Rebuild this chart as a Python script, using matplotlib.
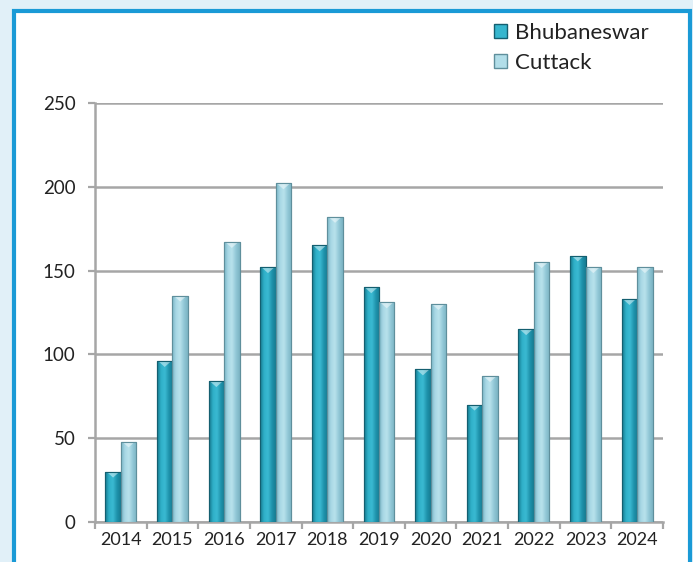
import numpy as np
import matplotlib
matplotlib.use("Agg")
from matplotlib import pyplot as plt
from matplotlib.colors import LinearSegmentedColormap
from matplotlib.patches import Rectangle, Polygon

years = ["2014", "2015", "2016", "2017", "2018", "2019", "2020", "2021", "2022", "2023", "2024"]
bhubaneswar = [30, 96, 84, 152, 165, 140, 91, 70, 115, 159, 133]
cuttack = [48, 135, 167, 202, 182, 131, 130, 87, 155, 152, 152]
yticks = [0, 50, 100, 150, 200, 250]

plt.rcParams["font.family"] = ["Lato", "DejaVu Sans"]

# colours for the bevelled bars (left edge -> highlight -> right edge)
cmap_b = LinearSegmentedColormap.from_list("b", ["#16788d", "#2fb0c9", "#3bbad2", "#1f93ac", "#167c92"])
cmap_c = LinearSegmentedColormap.from_list("c", ["#79b5c6", "#a9d8e5", "#b8e2ec", "#92c8d7", "#7bb3c3"])
edge_b = "#145f70"
edge_c = "#5f8f9c"

fig = plt.figure(figsize=(6.93, 5.62), dpi=100)
fig.patch.set_facecolor("#e1f0f8")
# white panel with blue border
fig.patches.append(Rectangle((14 / 693, -0.05), (690 - 14) / 693, 1.05 - 11 / 562,
                             transform=fig.transFigure, facecolor="white",
                             edgecolor="#1a9ad6", linewidth=3, zorder=-5))

ax = fig.add_axes([95 / 693, 40 / 562, (663 - 95) / 693, (522 - 103) / 562])
ax.set_facecolor("none")
ax.set_zorder(2)

x = np.arange(len(years))
w = 0.3
grad = np.linspace(0, 1, 64).reshape(1, -1)


def draw_bars(xs, vals, cmap, edge, label):
    bars = ax.bar(xs, vals, width=w, color=cmap(0.5), edgecolor=edge, linewidth=0.8,
                  label=label, zorder=3)
    for b in bars:
        x0, y0 = b.get_x(), b.get_y()
        bw, bh = b.get_width(), b.get_height()
        im = ax.imshow(grad, cmap=cmap, aspect="auto", extent=[x0, x0 + bw, y0, y0 + bh],
                       zorder=3, interpolation="bicubic")
        im.set_clip_path(b)
        # light chevron at the top of each bar
        tri = Polygon([[x0 + bw * 0.08, y0 + bh], [x0 + bw * 0.92, y0 + bh],
                       [x0 + bw * 0.5, y0 + bh - 3.5]], closed=True,
                      facecolor="white", alpha=0.45, edgecolor="none", zorder=4)
        ax.add_patch(tri)
        ax.add_patch(Rectangle((x0, y0), bw, bh, facecolor="none", edgecolor=edge,
                               linewidth=0.8, zorder=5))
    return bars


draw_bars(x - w / 2, bhubaneswar, cmap_b, edge_b, "Bhubaneswar")
draw_bars(x + w / 2, cuttack, cmap_c, edge_c, "Cuttack")

ax.set_xlim(-0.5, len(years) - 0.5)
ax.set_ylim(0, 250)
ax.set_yticks(yticks)
ax.set_yticklabels([str(v) for v in yticks])
ax.set_xticks(x)
ax.set_xticklabels(years)
ax.set_xticks(np.arange(-0.5, len(years), 1), minor=True)

ax.grid(axis="y", color="#a6a6a6", linewidth=1.8, zorder=1)
ax.set_axisbelow(True)
for s in ["top", "right"]:
    ax.spines[s].set_visible(False)
for s in ["left", "bottom"]:
    ax.spines[s].set_color("#a6a6a6")
    ax.spines[s].set_linewidth(1.8)
    ax.spines[s].set_zorder(2)

ax.tick_params(axis="y", length=5, width=1.6, color="#a6a6a6", pad=9, labelsize=13.5, labelcolor="#222222")
ax.tick_params(axis="x", which="major", length=0, pad=7, labelsize=13, labelcolor="#222222")
ax.tick_params(axis="x", which="minor", length=5, width=1.6, color="#a6a6a6")

handles = [Rectangle((0, 0), 1, 1, facecolor=cmap_b(0.4), edgecolor=edge_b),
           Rectangle((0, 0), 1, 1, facecolor=cmap_c(0.4), edgecolor=edge_c)]
fig.legend(handles, ["Bhubaneswar", "Cuttack"], loc="upper left",
           bbox_to_anchor=(474 / 693, 1 - 3 / 562), frameon=False, fontsize=16,
           handlelength=0.6, handleheight=0.6, handletextpad=0.35, labelspacing=0.45,
           labelcolor="#222222")

fig.savefig("out.png", dpi=100, facecolor=fig.get_facecolor())
